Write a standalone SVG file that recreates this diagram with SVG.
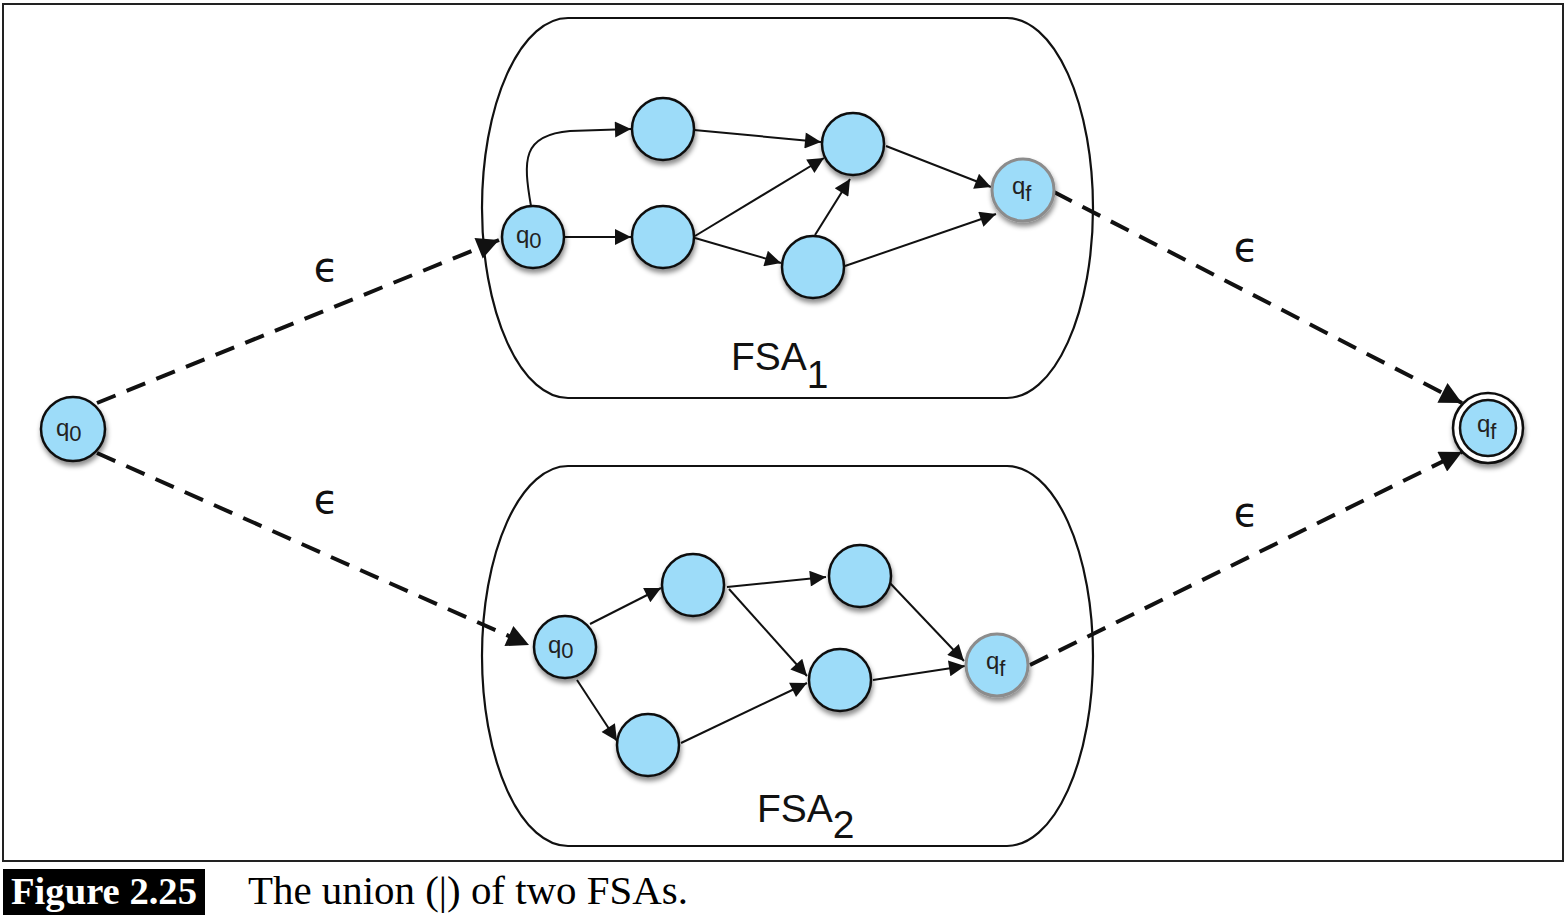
<svg xmlns="http://www.w3.org/2000/svg" width="1568" height="920" viewBox="0 0 1568 920">
<style>
.node{fill:#9ddcf9;stroke:#111;stroke-width:2.5;filter:url(#sh)}
.fin{fill:#9ddcf9;stroke:#8c8c8c;stroke-width:3;filter:url(#sh)}
.lbl{font-family:"Liberation Sans",Arial,sans-serif;font-size:24px;fill:#222}
.sub{font-size:22px}
.e{fill:none;stroke:#111;stroke-width:2;marker-end:url(#arr)}
.d{fill:none;stroke:#111;stroke-width:4;stroke-dasharray:20 12;marker-end:url(#arrd)}
.box{fill:none;stroke:#111;stroke-width:2.2}
.eps{font-family:"DejaVu Sans",sans-serif;font-size:40px;fill:#111}
.fsa{font-family:"Liberation Sans",Arial,sans-serif;font-size:39px;fill:#111}
</style>
<defs>
<filter id="sh" x="-30%" y="-30%" width="160%" height="170%">
<feDropShadow dx="1" dy="4" stdDeviation="2.5" flood-color="#000" flood-opacity="0.45"/>
</filter>
<marker id="arr" viewBox="0 0 10 10" refX="10" refY="5" markerWidth="23" markerHeight="16" markerUnits="userSpaceOnUse" orient="auto">
<path d="M0,0 L10,5 L0,10 z" fill="#111"/>
</marker>
<marker id="arrd" viewBox="0 0 10 10" refX="10" refY="5" markerWidth="30" markerHeight="22" markerUnits="userSpaceOnUse" orient="auto">
<path d="M0,0 L10,5 L0,10 z" fill="#111"/>
</marker>
</defs>
<rect width="1568" height="920" fill="#fff"/>
<rect x="3" y="4" width="1560" height="857" fill="none" stroke="#222" stroke-width="2"/>

<g id="fsa1-box">
<rect class="box" x="482" y="18" width="611" height="380" rx="86" ry="190"/>
<text class="fsa" x="731" y="370">FSA<tspan dy="18">1</tspan></text>
</g>
<g id="fsa2-box">
<rect class="box" x="482" y="466" width="611" height="380" rx="86" ry="190"/>
<text class="fsa" x="757" y="822">FSA<tspan dy="16">2</tspan></text>
</g>

<g id="connectors">
<path class="e" d="M531 206 C523 160 522 135 570 131 L631 129"/>
<path class="e" d="M564 237 L631 237"/>
<path class="e" d="M694 130 L821 142"/>
<path class="e" d="M695 236 L824 158"/>
<path class="e" d="M695 238 L781 263"/>
<path class="e" d="M815 235 L850 179"/>
<path class="e" d="M886 146 L991 187"/>
<path class="e" d="M845 266 L996 214"/>

<path class="e" d="M590 624 L661 588"/>
<path class="e" d="M577 680 L617 741"/>
<path class="e" d="M727 587 L826 577"/>
<path class="e" d="M729 589 L807 676"/>
<path class="e" d="M681 743 L807 683"/>
<path class="e" d="M889 582 L964 661"/>
<path class="e" d="M873 680 L965 666"/>

<path class="d" d="M97 403 L499 240"/>
<path class="d" d="M97 453 L529 645"/>
<path class="d" d="M1054 192 L1462 403"/>
<path class="d" d="M1030 665 L1462 452"/>
<text class="eps" x="326" y="281" text-anchor="middle">ϵ</text>
<text class="eps" x="326" y="513" text-anchor="middle">ϵ</text>
<text class="eps" x="1246" y="261" text-anchor="middle">ϵ</text>
<text class="eps" x="1246" y="526" text-anchor="middle">ϵ</text>
</g>

<g id="start">
<circle class="node" cx="73" cy="429" r="32"/>
<text class="lbl" x="56" y="436">q<tspan class="sub" dy="5">0</tspan></text>
</g>
<g id="final">
<circle cx="1488" cy="428" r="35" fill="#fff" stroke="#111" stroke-width="2.5" filter="url(#sh)"/>
<circle cx="1488" cy="428" r="28" fill="#9ddcf9" stroke="#111" stroke-width="2.5"/>
<text class="lbl" x="1477" y="432">q<tspan class="sub" dy="7">f</tspan></text>
</g>

<g id="f1-q0"><circle class="node" cx="533" cy="237" r="31"/><text class="lbl" x="516" y="243">q<tspan class="sub" dy="5">0</tspan></text></g>
<g id="f1-a"><circle class="node" cx="663" cy="129" r="31"/></g>
<g id="f1-b"><circle class="node" cx="663" cy="237" r="31"/></g>
<g id="f1-c"><circle class="node" cx="853" cy="144" r="31"/></g>
<g id="f1-d"><circle class="node" cx="813" cy="267" r="31"/></g>
<g id="f1-qf"><circle class="fin" cx="1023" cy="190" r="31"/><text class="lbl" x="1012" y="194">q<tspan class="sub" dy="7">f</tspan></text></g>

<g id="f2-q0"><circle class="node" cx="565" cy="647" r="31"/><text class="lbl" x="548" y="653">q<tspan class="sub" dy="5">0</tspan></text></g>
<g id="f2-e"><circle class="node" cx="693" cy="585" r="31"/></g>
<g id="f2-f"><circle class="node" cx="648" cy="745" r="31"/></g>
<g id="f2-g"><circle class="node" cx="860" cy="576" r="31"/></g>
<g id="f2-h"><circle class="node" cx="840" cy="680" r="31"/></g>
<g id="f2-qf"><circle class="fin" cx="997" cy="665" r="31"/><text class="lbl" x="986" y="669">q<tspan class="sub" dy="7">f</tspan></text></g>

<g id="caption">
<rect x="3" y="869" width="202" height="46" fill="#000"/>
<text x="104" y="904" text-anchor="middle" font-family="Liberation Serif,'Times New Roman',serif" font-weight="bold" font-size="38" fill="#fff" textLength="186" lengthAdjust="spacingAndGlyphs">Figure 2.25</text>
<text x="248" y="904" font-family="Liberation Serif,'Times New Roman',serif" font-size="40" fill="#000" textLength="440" lengthAdjust="spacingAndGlyphs">The union (|) of two FSAs.</text>
</g>
</svg>
